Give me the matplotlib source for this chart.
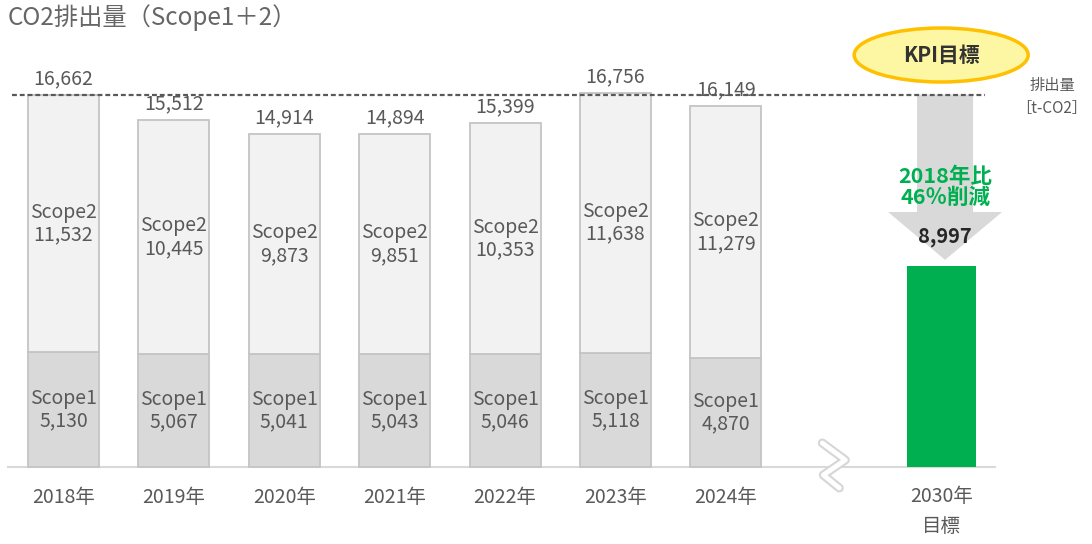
import matplotlib
matplotlib.use('Agg')
from matplotlib import pyplot as plt
from matplotlib.patches import Polygon, Ellipse

plt.rcParams['font.family'] = ['Noto Sans CJK JP', 'DejaVu Sans']

# data
years = ['2018年', '2019年', '2020年', '2021年', '2022年', '2023年', '2024年']
scope1 = [5130, 5067, 5041, 5043, 5046, 5118, 4870]
scope2 = [11532, 10445, 9873, 9851, 10353, 11638, 11279]
totals = [16662, 15512, 14914, 14894, 15399, 16756, 16149]
target_label = '2030年\n目標'
target_value = 8997

xpos = list(range(len(years)))
target_x = 7.95
bar_w = 0.643

txt_gray = '#595959'
green = '#00b050'

fig = plt.figure(figsize=(10.92, 5.44), dpi=100)
ax = fig.add_axes([0, 0, 1, 1])
ax.set_xlim(-0.575, 9.316)
ax.set_ylim(-3445, 20895)
ax.axis('off')

# px -> data helpers for layout of decorations
sx = 1 / 110.4
sy = 1 / 0.02235

#Baseline and 2018 dashed reference line
ax.plot([-0.575 + 8 * sx, -0.575 + 995 * sx], [0, 0], color='#d9d9d9', lw=1.5, zorder=1)
ax.plot([-0.575 + 12 * sx, -0.575 + 985 * sx], [totals[0], totals[0]],
        color='#595959', lw=1.6, ls=(0, (2.2, 1.3)), zorder=5)

#Stacked bars
ax.bar(xpos, scope1, width=bar_w, color='#d9d9d9', edgecolor='#c4c4c4', lw=1.3, zorder=2)
ax.bar(xpos, scope2, width=bar_w, bottom=scope1, color='#f2f2f2', edgecolor='#c4c4c4',
       lw=1.3, zorder=2)

for x, s1, s2, t in zip(xpos, scope1, scope2, totals):
    ax.text(x, s1 / 2, 'Scope1\n{:,}'.format(s1), ha='center', va='center',
            fontsize=14, color=txt_gray, linespacing=1.1, zorder=6)
    ax.text(x, s1 + s2 / 2, 'Scope2\n{:,}'.format(s2), ha='center', va='center',
            fontsize=14, color=txt_gray, linespacing=1.1, zorder=6)
    ax.annotate('{:,}'.format(t), (x, t), xytext=(0, 4), textcoords='offset points',
                ha='center', va='bottom', fontsize=14, color=txt_gray, zorder=6)

for x, y in zip(xpos, years):
    ax.text(x, -30 * sy, y, ha='center', va='center', fontsize=14, color=txt_gray)

#Target bar
ax.bar([target_x], [target_value], width=bar_w * 0.97, color=green, zorder=2)
ax.text(target_x, -19 * sy, target_label, ha='center', va='top', fontsize=14,
        color=txt_gray, linespacing=1.55)

#Big reduction arrow
ax_c = target_x + 0.035
shaft = 28 * sx
head = 57 * sx
head_y = 11409
tip_y = target_value + 270
arrow = Polygon([(ax_c - shaft, totals[0]), (ax_c + shaft, totals[0]),
                 (ax_c + shaft, head_y), (ax_c + head, head_y),
                 (ax_c, tip_y), (ax_c - head, head_y),
                 (ax_c - shaft, head_y)], closed=True,
                facecolor='#d9d9d9', edgecolor='none', zorder=3)
ax.add_patch(arrow)

ax.text(ax_c, (467 - 187) * sy, '2018年比\n46％削減', ha='center', va='center',
        fontsize=15.5, fontweight='bold', color=green, linespacing=1.0, zorder=6)
ax.text(ax_c, (467 - 236) * sy, '{:,}'.format(target_value), ha='center', va='center',
        fontsize=14.5, fontweight='bold', color='#262626', zorder=6)

#KPI bubble
ell = Ellipse((target_x, (467 - 55) * sy), 174 * sx, 54 * sy, facecolor='#fdf7a3',
              edgecolor='#ffc000', lw=2.5, zorder=6)
ax.add_patch(ell)
ax.text(target_x, (467 - 55) * sy, 'KPI目標', ha='center', va='center',
        fontsize=15, fontweight='bold', color='#333333', zorder=7)

#Unit label
ax.text(-0.575 + 1052 * sx, (467 - 97) * sy, '排出量\n［t-CO2］', ha='center', va='center',
        fontsize=11, color=txt_gray, linespacing=1.45)

#Axis break mark
bx = 7.0
pts_x = [bx - 14 * sx, bx + 9 * sx, bx - 13 * sx, bx + 3 * sx]
pts_y = [24 * sy, 7 * sy, -8 * sy, -21 * sy]
ax.plot(pts_x, pts_y, color='#d6d6d6', lw=6.5, solid_capstyle='round',
        solid_joinstyle='round', zorder=4)
ax.plot(pts_x, pts_y, color='white', lw=3.5, solid_capstyle='round',
        solid_joinstyle='round', zorder=4)

#Title
fig.text(8 / 1092, 1 - 18 / 544, 'CO2排出量（Scope1＋2）', ha='left', va='center',
         fontsize=17.5, color='#666666')

fig.savefig('out.png', dpi=100)
